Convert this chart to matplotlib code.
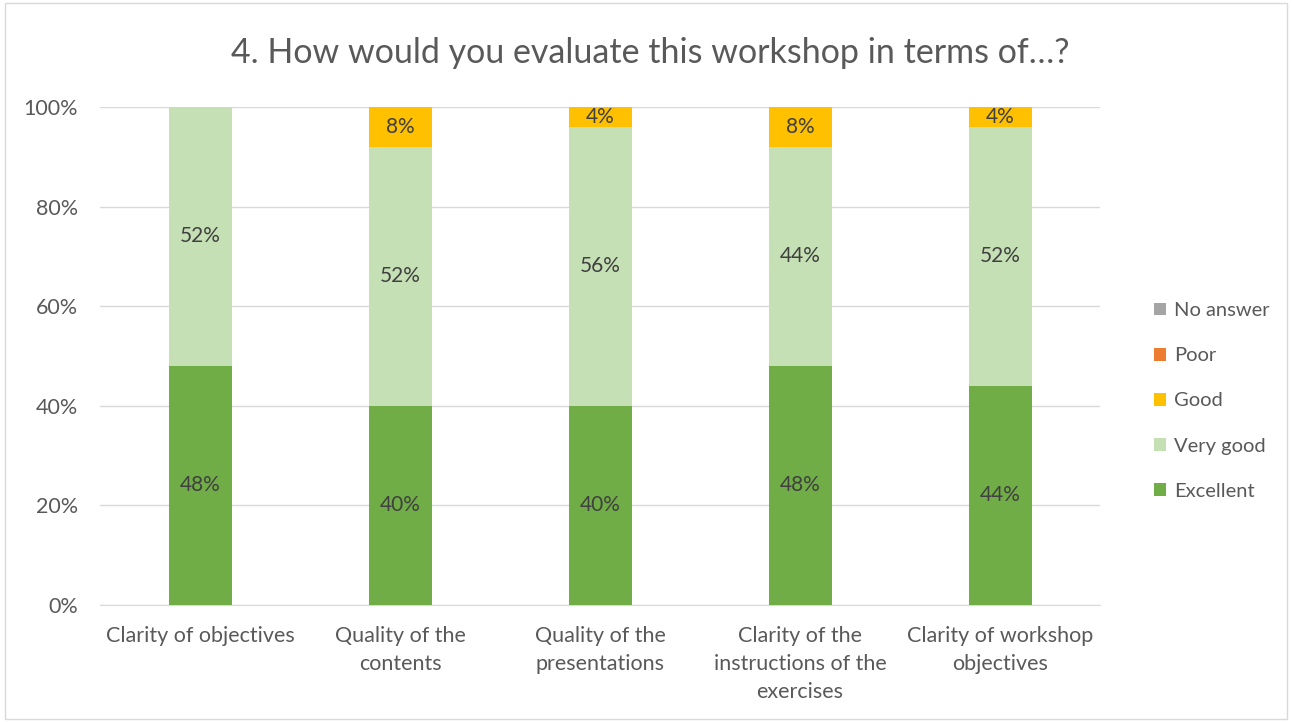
import matplotlib
matplotlib.use('Agg')
import matplotlib.pyplot as plt
from matplotlib.patches import Rectangle
import numpy as np

categories = ['Clarity of objectives', 'Quality of the\ncontents', 'Quality of the\npresentations',
              'Clarity of the\ninstructions of the\nexercises', 'Clarity of workshop\nobjectives']
excellent = [48, 40, 40, 48, 44]
very_good = [52, 52, 56, 44, 52]
good = [0, 8, 4, 8, 4]
poor = [0, 0, 0, 0, 0]
no_answer = [0, 0, 0, 0, 0]

series = [
    ('Excellent', excellent, '#70AD47'),
    ('Very good', very_good, '#C5E0B4'),
    ('Good', good, '#FFC000'),
    ('Poor', poor, '#ED7D31'),
    ('No answer', no_answer, '#A5A5A5'),
]

plt.rcParams['font.family'] = ['Lato', 'DejaVu Sans']

fig = plt.figure(figsize=(12.92, 7.22), dpi=100)
ax = fig.add_axes([100 / 1292, 1 - 605 / 722, 1000 / 1292, 498 / 722])

x = np.arange(len(categories))
bottom = np.zeros(len(categories))
handles = []
for name, vals, color in series:
    vals = np.array(vals, dtype=float)
    h = ax.bar(x, vals, 0.315, bottom=bottom, color=color, label=name, zorder=3)
    handles.append(h)
    for xi, v, b in zip(x, vals, bottom):
        if v > 0:
            ax.text(xi, b + v / 2, f'{int(v)}%', ha='center', va='center',
                    fontsize=15, color='#404040', zorder=4)
    bottom += vals

ax.set_xlim(-0.5, 4.5)
ax.set_ylim(0, 100)
ax.set_yticks(range(0, 101, 20))
ax.set_yticklabels([f'{v}%' for v in range(0, 101, 20)])
ax.set_xticks(x)
ax.set_xticklabels(categories, linespacing=1.5)
ax.tick_params(axis='both', length=0, labelsize=15.5, colors='#595959')
ax.tick_params(axis='x', pad=15)
ax.tick_params(axis='y', pad=16)
ax.grid(axis='y', color='#D9D9D9', linewidth=1, zorder=0)
for s in ['top', 'right', 'left']:
    ax.spines[s].set_visible(False)
ax.spines['bottom'].set_color('#D9D9D9')

fig.text(0.503, 1 - 53 / 722, '4. How would you evaluate this workshop in terms of\u2026?',
         ha='center', va='center', fontsize=24.5, color='#595959')

leg = fig.legend(handles[::-1], [s[0] for s in series][::-1], loc='center left',
                 bbox_to_anchor=(1136 / 1292, 1 - 401 / 722), frameon=False,
                 fontsize=14.5, labelcolor='#595959', handlelength=0.6, handleheight=0.6,
                 handletextpad=0.4, labelspacing=1.4)

fig.patches.append(Rectangle((0.004, 0.004), 0.992, 0.992, transform=fig.transFigure,
                             fill=False, edgecolor='#D9D9D9', linewidth=1))

fig.savefig('out.png', dpi=100)
